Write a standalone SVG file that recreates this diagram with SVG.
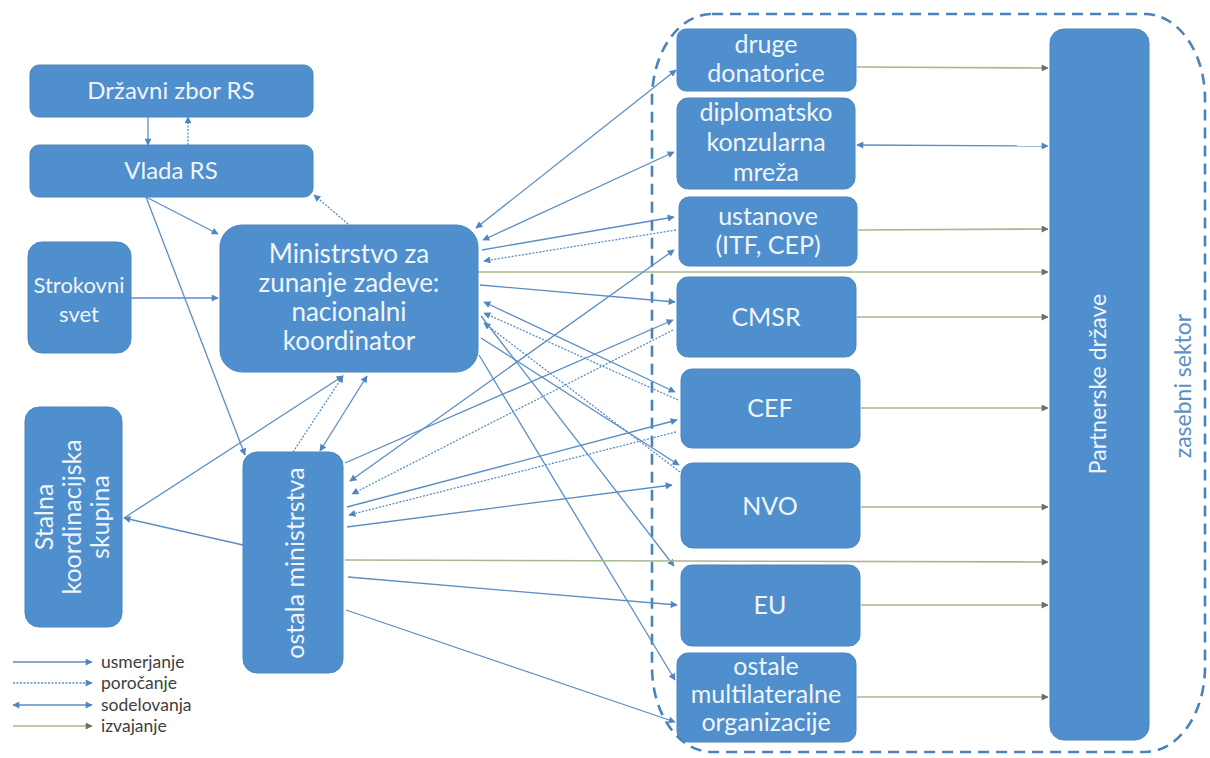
<svg xmlns="http://www.w3.org/2000/svg" width="1210" height="758" viewBox="0 0 1210 758">
<style>
.n{fill:#4f8fcd;stroke:#4a86c2;stroke-width:1}
.t{font-family:Lato,"Liberation Sans",sans-serif;font-size:24px;fill:#f0f5fb;text-anchor:middle}
.r{font-size:25px}
.u{stroke:#5b8ec4;stroke-width:1.3;fill:none;marker-end:url(#ab)}
.p{stroke:#5b8ec4;stroke-width:1.3;fill:none;stroke-dasharray:2 1.5;marker-end:url(#ab)}
.s{stroke:#5b8ec4;stroke-width:1.3;fill:none;marker-end:url(#ab);marker-start:url(#ab)}
.i{stroke:#a9b78c;stroke-width:1.6;fill:none;marker-end:url(#ag)}
.lg{font-family:Lato,"Liberation Sans",sans-serif;font-size:17.5px;fill:#404040}
</style>
<defs>
<marker id="ab" viewBox="0 0 10 10" refX="9" refY="5" markerWidth="9" markerHeight="7" markerUnits="userSpaceOnUse" orient="auto-start-reverse"><path d="M0,0 L10,5 L0,10 z" fill="#4f86c0"/></marker>
<marker id="ag" viewBox="0 0 10 10" refX="9" refY="5" markerWidth="9" markerHeight="7" markerUnits="userSpaceOnUse" orient="auto-start-reverse"><path d="M0,0 L10,5 L0,10 z" fill="#6b7160"/></marker>
</defs>
<rect width="1210" height="758" fill="#ffffff"/>

<rect id="boundary" x="652" y="14" width="553" height="738" rx="60" ry="85" fill="none" stroke="#4a82ba" stroke-width="2.6" stroke-dasharray="11 7"/>

<g id="connectors">
<line class="u" x1="148" y1="117" x2="148" y2="145"/>
<line class="p" x1="188" y1="145" x2="188" y2="117"/>
<line class="u" x1="146" y1="197" x2="218" y2="234"/>
<line class="u" x1="146" y1="197" x2="245" y2="455"/>
<line class="p" x1="348" y1="224" x2="314" y2="195"/>
<line class="u" x1="131" y1="298" x2="218" y2="298"/>
<line class="u" x1="243" y1="545" x2="124" y2="518"/>
<line class="u" x1="124" y1="518" x2="343" y2="376"/>
<line class="p" x1="293" y1="452" x2="343" y2="376"/>
<line class="s" x1="367" y1="376" x2="320" y2="451"/>

<line class="s" x1="476" y1="228" x2="676" y2="70"/>
<line class="s" x1="483" y1="240" x2="674" y2="152"/>
<line class="u" x1="482" y1="250" x2="674" y2="217"/>
<line class="p" x1="676" y1="230" x2="484" y2="261"/>
<line class="i" x1="478" y1="272" x2="1048" y2="272"/>
<line class="u" x1="480" y1="285" x2="675" y2="302"/>
<line class="s" x1="484" y1="302" x2="675" y2="392"/>
<line class="p" x1="678" y1="400" x2="484" y2="313"/>
<line class="p" x1="680" y1="472" x2="484" y2="323"/>
<line class="u" x1="481" y1="338" x2="679" y2="465"/>
<line class="u" x1="481" y1="316" x2="674" y2="566"/>
<line class="u" x1="479" y1="355" x2="675" y2="680"/>

<line class="u" x1="345" y1="463" x2="673" y2="320"/>
<line class="s" x1="674" y1="250" x2="350" y2="481"/>
<line class="p" x1="673" y1="330" x2="352" y2="494"/>
<line class="u" x1="347" y1="507" x2="677" y2="420"/>
<line class="p" x1="676" y1="432" x2="349" y2="515"/>
<line class="u" x1="347" y1="527" x2="672" y2="485"/>
<line class="i" x1="345" y1="560" x2="1048" y2="562"/>
<line class="u" x1="348" y1="577" x2="677" y2="605"/>
<line class="u" x1="346" y1="610" x2="675" y2="722"/>

<line class="i" x1="857" y1="67" x2="1048" y2="68"/>
<line class="s" x1="857" y1="145" x2="1048" y2="146"/>
<line class="i" x1="858" y1="230" x2="1048" y2="229"/>
<line class="i" x1="857" y1="317" x2="1048" y2="317"/>
<line class="i" x1="861" y1="408" x2="1048" y2="408"/>
<line class="i" x1="861" y1="507" x2="1048" y2="507"/>
<line class="i" x1="861" y1="605" x2="1048" y2="605"/>
<line class="i" x1="857" y1="697" x2="1048" y2="697"/>
</g>

<g id="drzavni-zbor"><rect class="n" x="30" y="65" width="283" height="52" rx="9"/><text class="t" x="171" y="99">Državni zbor RS</text></g>
<g id="vlada"><rect class="n" x="30" y="145" width="283" height="52" rx="9"/><text class="t" x="171" y="179">Vlada RS</text></g>
<g id="strokovni-svet"><rect class="n" x="28" y="242" width="103" height="111" rx="14"/><text class="t" style="font-size:22px" x="79" y="293">Strokovni</text><text class="t" style="font-size:22px" x="79" y="322">svet</text></g>
<g id="ministrstvo"><rect class="n" x="220" y="225" width="258" height="147" rx="22"/>
<text class="t" x="349" y="263" style="font-size:26px">Ministrstvo za</text>
<text class="t" x="349" y="292" style="font-size:26px">zunanje zadeve:</text>
<text class="t" x="349" y="321" style="font-size:26px">nacionalni</text>
<text class="t" x="349" y="350" style="font-size:26px">koordinator</text></g>
<g id="stalna"><rect class="n" x="25" y="407" width="97" height="220" rx="14"/>
<g transform="translate(73,517) rotate(-90)"><text class="t r" x="0" y="-20">Stalna</text><text class="t r" x="0" y="8">koordinacijska</text><text class="t r" x="0" y="36">skupina</text></g></g>
<g id="ostala"><rect class="n" x="243" y="452" width="100" height="221" rx="14"/>
<text class="t" style="font-size:25px" transform="translate(304,563) rotate(-90)">ostala ministrstva</text></g>

<g id="druge"><rect class="n" x="677" y="29" width="179" height="62" rx="9"/><text class="t r" x="766" y="53">druge</text><text class="t r" x="766" y="82">donatorice</text></g>
<g id="diplomatsko"><rect class="n" x="677" y="98" width="178" height="91" rx="11"/><text class="t r" x="766" y="121">diplomatsko</text><text class="t r" x="766" y="151">konzularna</text><text class="t r" x="766" y="181">mreža</text></g>
<g id="ustanove"><rect class="n" x="679" y="197" width="178" height="69" rx="10"/><text class="t r" x="768" y="225">ustanove</text><text class="t r" x="768" y="254">(ITF, CEP)</text></g>
<g id="cmsr"><rect class="n" x="677" y="277" width="179" height="80" rx="11"/><text class="t r" x="766" y="326">CMSR</text></g>
<g id="cef"><rect class="n" x="681" y="369" width="179" height="79" rx="11"/><text class="t r" x="770" y="417">CEF</text></g>
<g id="nvo"><rect class="n" x="681" y="463" width="179" height="85" rx="12"/><text class="t r" x="770" y="515">NVO</text></g>
<g id="eu"><rect class="n" x="681" y="565" width="179" height="81" rx="11"/><text class="t r" x="770" y="614">EU</text></g>
<g id="ostale-multi"><rect class="n" x="677" y="653" width="179" height="89" rx="11"/><text class="t r" x="766" y="675">ostale</text><text class="t r" x="766" y="703">multilateralne</text><text class="t r" x="766" y="731">organizacije</text></g>
<g id="partnerske"><rect class="n" x="1050" y="29" width="99" height="711" rx="14"/>
<text class="t" style="font-size:23px" transform="translate(1106,384) rotate(-90)">Partnerske države</text></g>
<g id="zasebni"><text transform="translate(1191,386) rotate(-90)" style="font-family:Lato,'Liberation Sans',sans-serif;font-size:23px;fill:#5b8fc7;text-anchor:middle">zasebni sektor</text></g>

<g id="legend">
<line class="u" x1="13" y1="662" x2="92" y2="662"/>
<line class="p" x1="13" y1="683" x2="92" y2="683"/>
<line class="s" x1="13" y1="705" x2="92" y2="705"/>
<line class="i" x1="13" y1="726" x2="92" y2="726"/>
<text class="lg" x="101" y="668">usmerjanje</text>
<text class="lg" x="101" y="689">poročanje</text>
<text class="lg" x="101" y="711">sodelovanja</text>
<text class="lg" x="101" y="732">izvajanje</text>
</g>
</svg>
